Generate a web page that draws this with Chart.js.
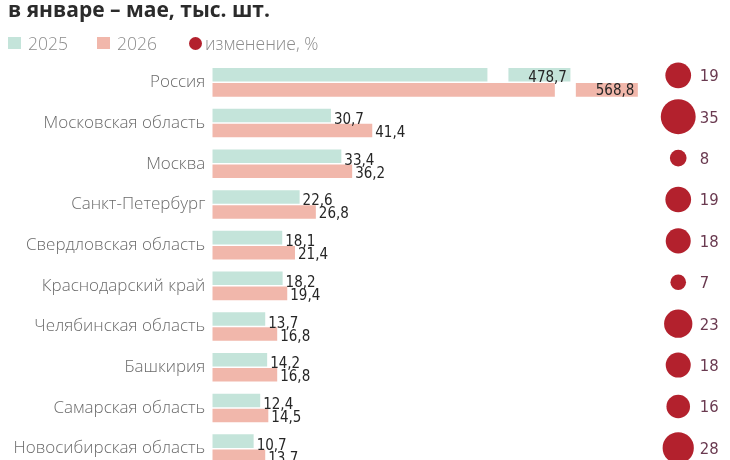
<!DOCTYPE html>
<html>
<head>
<meta charset="utf-8">
<script src="https://cdn.jsdelivr.net/npm/chart.js@4.4.1/dist/chart.umd.min.js"></script>
<style>
html,body{margin:0;padding:0;background:#fff;overflow:hidden;width:730px;height:460px}
#wrap{position:relative;width:730px;height:470px}
canvas{position:absolute;left:0;top:0}
#title{position:absolute;left:8px;top:-3px;font:700 21px 'Open Sans',sans-serif;color:#2b2b2b;line-height:24px;white-space:nowrap;z-index:2}
#legend{position:absolute;left:0;top:30px;width:730px;height:26px;font:300 17.5px 'Open Sans',sans-serif;color:#8c8c8c;z-index:2}
.item{position:absolute;top:0;height:26px;display:flex;align-items:center;white-space:nowrap}
.sw{display:inline-block;width:13px;height:12px}
.dot{display:inline-block;width:13px;height:13px;border-radius:50%}
</style>
</head>
<body>
<div id="wrap">
  <canvas id="bars" width="730" height="470"></canvas>
  <canvas id="dots" width="730" height="470"></canvas>
  <div id="title">в январе – мае, тыс. шт.</div>
  <div id="legend"></div>
</div>
<script>
// ---- data ----
const regions = ['Россия','Московская область','Москва','Санкт-Петербург','Свердловская область','Краснодарский край','Челябинская область','Башкирия','Самарская область','Новосибирская область'];
const values2025 = [478.7,30.7,33.4,22.6,18.1,18.2,13.7,14.2,12.4,10.7];
const values2026 = [568.8,41.4,36.2,26.8,21.4,19.4,16.8,16.8,14.5,13.7];
const changePct = [19,35,8,19,18,7,23,18,16,28];
const seriesLabels = ['2025','2026','изменение, %'];
const totalLabel = 'Россия';

// ---- styles ----
const C2025 = '#c4e4da', C2026 = '#f1b7ab', CDOT = '#b3212d';
const colors = [C2025, C2026, CDOT];
const NUM_FONT = "15px 'DejaVu Sans Condensed', 'Liberation Sans Narrow', sans-serif";

const isTotal = i => regions[i] === totalLabel;
const mainData = arr => arr.map((v,i) => isTotal(i) ? null : v);
const totalData = arr => arr.map((v,i) => isTotal(i) ? v : null);
const fmt = v => v.toFixed(1).replace('.', ',');

// HTML legend built from series
const legendPos = [8, 97, 189];
const lg = document.getElementById('legend');
seriesLabels.forEach((t, i) => {
  const it = document.createElement('div');
  it.className = 'item';
  it.style.left = legendPos[i] + 'px';
  const sw = document.createElement('span');
  sw.className = i === 2 ? 'dot' : 'sw';
  sw.style.background = colors[i];
  const tx = document.createElement('span');
  tx.textContent = t;
  tx.style.marginLeft = i === 2 ? '3px' : '7px';
  it.appendChild(sw); it.appendChild(tx);
  lg.appendChild(it);
});

const barLabels = {
  id: 'barLabels',
  afterDatasetsDraw(chart) {
    const ctx = chart.ctx;
    ctx.save();
    // pass 1: axis-break gaps on the total bars
    chart.data.datasets.forEach((ds, di) => {
      if (ds.kind !== 'total') return;
      chart.getDatasetMeta(di).data.forEach((el, i) => {
        if (ds.data[i] === null) return;
        ctx.fillStyle = '#ffffff';
        ctx.fillRect(el.x - 83, el.y - el.height / 2 - 0.5, 21, el.height + 1);
      });
    });
    // pass 2: value labels
    ctx.font = NUM_FONT;
    ctx.textBaseline = 'alphabetic';
    ctx.fillStyle = '#262626';
    chart.data.datasets.forEach((ds, di) => {
      chart.getDatasetMeta(di).data.forEach((el, i) => {
        const v = ds.data[i];
        if (v === null || v === undefined) return;
        if (ds.kind === 'main') {
          ctx.textAlign = 'left';
          ctx.fillText(fmt(v), el.x + 3, el.y + (ds.year === '2025' ? 8.5 : 6.5));
        } else {
          ctx.textAlign = 'right';
          ctx.fillText(fmt(v), el.x - 3.5, el.y + (ds.year === '2025' ? 7 : 5));
        }
      });
    });
    ctx.restore();
  }
};

const dotLabels = {
  id: 'dotLabels',
  afterDatasetsDraw(chart) {
    const ctx = chart.ctx;
    ctx.save();
    ctx.font = "16.5px 'DejaVu Sans Condensed', 'Liberation Sans Narrow', sans-serif";
    ctx.fillStyle = '#6a3a50';
    ctx.textAlign = 'left';
    ctx.textBaseline = 'alphabetic';
    chart.getDatasetMeta(0).data.forEach((el, i) => {
      ctx.fillText(String(changePct[i]), el.x + 21.5, el.y + 6);
    });
    ctx.restore();
  }
};

new Chart(document.getElementById('bars'), {
  type: 'bar',
  data: {
    labels: regions,
    datasets: [
      { kind:'main', year:'2025', stack:'s2025', label: seriesLabels[0], xAxisID:'x', yAxisID:'y', data: mainData(values2025), backgroundColor: C2025 },
      { kind:'main', year:'2026', stack:'s2026', label: seriesLabels[1], xAxisID:'x', yAxisID:'y', data: mainData(values2026), backgroundColor: C2026 },
      { kind:'total', year:'2025', stack:'s2025', label: seriesLabels[0], xAxisID:'xr', yAxisID:'y', data: totalData(values2025), backgroundColor: C2025 },
      { kind:'total', year:'2026', stack:'s2026', label: seriesLabels[1], xAxisID:'xr', yAxisID:'y', data: totalData(values2026), backgroundColor: C2026 }
    ]
  },
  options: {
    indexAxis: 'y',
    responsive: false,
    animation: false,
    events: [],
    layout: { autoPadding: false, padding: { top: 62, left: 0, right: 0, bottom: 1 } },
    datasets: { bar: { categoryPercentage: 0.74, barPercentage: 0.9 } },
    plugins: { legend: { display: false }, tooltip: { enabled: false }, title: { display: false } },
    scales: {
      y: {
        type: 'category', position: 'left', offset: true,
        grid: { display: false, drawTicks: false }, border: { display: false },
        ticks: { color: '#6b6b6b', padding: 7, autoSkip: false, font: { family: "'Open Sans', sans-serif", size: 17, weight: '300' } },
        afterFit: s => { s.width = 212.3; s.paddingTop = 0; s.paddingBottom = 0; }
      },
      x: { type: 'linear', min: 0, max: 134, stacked: false, offset: false, display: false },
      xr: { type: 'linear', axis: 'x', min: 0, max: 692, stacked: false, offset: false, display: false }
    }
  },
  plugins: [barLabels]
});

new Chart(document.getElementById('dots'), {
  type: 'bubble',
  data: {
    datasets: [{
      label: seriesLabels[2],
      data: regions.map((r, i) => ({ x: 0, y: i })),
      backgroundColor: CDOT, borderWidth: 0,
      radius: ctx => 2.95 * Math.sqrt(changePct[ctx.dataIndex])
    }]
  },
  options: {
    responsive: false,
    animation: false,
    events: [],
    layout: { autoPadding: false, padding: { top: 62, left: 212.3, right: 0, bottom: 1 } },
    plugins: { legend: { display: false }, tooltip: { enabled: false } },
    scales: {
      x: { type: 'linear', min: -0.9, max: 0.1, display: false },
      y: { type: 'linear', reverse: true, min: -0.321, max: 9.51, display: false }
    }
  },
  plugins: [dotLabels]
});
</script>
</body>
</html>
